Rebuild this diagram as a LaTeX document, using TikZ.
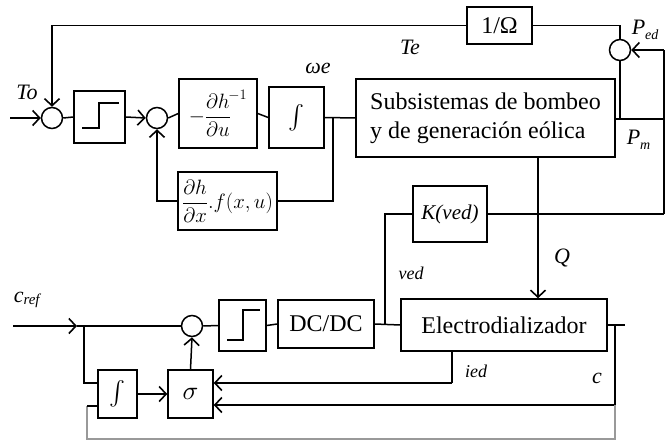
\documentclass[tikz,border=0pt]{standalone}
\usepackage{fontspec}
\setmainfont{Liberation Serif}
\usetikzlibrary{arrows.meta}
\newcommand{\bigint}{{\fontsize{10}{12}\selectfont\scalebox{2.4}{$\int$}}}
\begin{document}
\begin{tikzpicture}[x=1pt,y=-1pt,line width=1.5pt,
  blk/.style={draw,line width=1.5pt,rectangle,inner sep=0pt,font=\fontsize{24}{29}\selectfont},
  mblk/.style={blk,font=\fontsize{20}{24}\selectfont},
  sumc/.style={draw,line width=1.5pt,circle,minimum size=21pt,inner sep=0pt},
  arr/.style={-{Straight Barb[length=7pt,width=15pt,line width=1.6pt]}},
  lbl/.style={font=\fontsize{22}{26}\selectfont\itshape,inner sep=0pt},
  slbl/.style={font=\fontsize{18}{21}\selectfont\itshape,inner sep=0pt}]
\useasboundingbox (0,0) rectangle (666,441);
% nodes
\node[sumc] (sum1) at (52,118) {};
\node[blk,minimum width=51pt,minimum height=52pt] (sat1) at (99.5,117) {};
\node[sumc] (sum2) at (157,118) {};
\node[mblk,minimum width=78pt,minimum height=69pt] (gain) at (218,113.5)
  {$\displaystyle -\frac{\partial h}{\partial u}^{\!-1}$};
\node[blk,minimum width=55pt,minimum height=61pt] (int1) at (296.5,117.5) {\bigint};
\node[mblk,minimum width=99pt,minimum height=58pt] (fb) at (227.5,201)
  {$\displaystyle\frac{\partial h}{\partial x}.f(x,u)$};
\node[blk,minimum width=259pt,minimum height=78pt,align=left] (sub) at (485.5,118)
  {Subsistemas de bombeo\\y de generación eólica};
\node[blk,minimum width=65pt,minimum height=37pt] (omg) at (499.5,25.5) {1/Ω};
\node[sumc] (sum3) at (620,50) {};
\node[blk,minimum width=74pt,minimum height=56pt,font=\fontsize{21}{25}\selectfont\itshape] (kv) at (450,214) {K(ved)};
\node[sumc] (sum4) at (192,326) {};
\node[blk,minimum width=47pt,minimum height=51pt] (sat2) at (242.5,325.5) {};
\node[blk,minimum width=96pt,minimum height=48pt] (dc) at (326,324) {DC/DC};
\node[blk,minimum width=206pt,minimum height=52pt] (ed) at (504,325) {Electrodializador};
\node[blk,minimum width=39pt,minimum height=48pt] (int2) at (117.5,394) {\bigint};
\node[blk,minimum width=45pt,minimum height=48pt] (sig) at (190.5,394)
  {{\fontsize{10}{12}\selectfont\scalebox{2.6}{$\sigma$}}};
% saturation symbols
\draw (82,128) -- (99,128) -- (99,103) -- (119,103);
\draw (227,340) -- (243,340) -- (243,310) -- (260,310);
% coordinates
\coordinate (in1) at (10,118);
\coordinate (j1) at (333,118);
\coordinate (pmr) at (664,119);
\coordinate (rtop) at (664,50);
\coordinate (rbot) at (664,214);
\coordinate (vj) at (385,214);
\coordinate (vb) at (385,325);
\coordinate (cin) at (13,326);
\coordinate (ctip) at (77,326);
\coordinate (cj) at (84,326);
\coordinate (cj2) at (84,383);
\coordinate (oj) at (615,325);
\coordinate (oe) at (625,325);
\coordinate (ob) at (615,439);
\coordinate (lb) at (87,439);
\coordinate (iedb) at (452,383);
\coordinate (cc) at (615,405);
% top loop
\draw[arr] (in1) -- (sum1.west);
\draw[arr] (omg.west) -| (sum1.north);
\draw (omg.east) -| (sum3.north);
\draw (sum1.east) -- (sat1.west);
\draw[arr] (sat1.east) -- (sum2.west);
\draw (sum2.east) -- (gain.west);
\draw (gain.east) -- (int1.west);
\draw (int1.east) -- (sub.west);
\draw (j1) |- (fb.east);
\draw[arr] (fb.west) -| (sum2.south);
\draw (sub.east |- pmr) -- (pmr);
\draw (sum3.south) -- (sum3.south |- pmr);
\draw (rbot) -- (rtop);
\draw[arr] (rtop) -- (sum3.east);
\draw (rbot) -- (kv.east);
\draw (kv.west) -- (vj) -- (vb);
\draw[arr] (sub.south -| 538,0) -- (ed.north -| 538,0);
% bottom loop
\draw[arr] (cin) -- (ctip);
\draw (ctip) -- (sum4.west);
\draw (cj) |- (int2.west |- cj2);
\draw[arr] (int2.east) -- (sig.west);
\draw[arr] (sig.north) -- (sum4.south);
\draw (sum4.east) -- (sat2.west);
\draw (sat2.east) -- (dc.west);
\draw (dc.east) -- (ed.west);
\draw (ed.east) -- (oe);
\draw (ed.south -| iedb) -- (iedb);
\draw[arr] (iedb) -- (sig.east |- iedb);
\draw[arr] (oj) |- (sig.east |- cc);
\draw[black!40] (cc) -- (ob) -- (lb) -- (lb |- 0,406);
\draw (lb |- 0,406) -- (int2.west |- 0,406);
% labels
\node[lbl] (lTo) at (27,92) {To};
\node[lbl] (lTe) at (410,47) {Te};
\node[lbl] (lwe) at (318,68) {ωe};
\node[lbl,anchor=west] (lPed) at (631,30) {P\raisebox{-5pt}{\fontsize{14}{16}\selectfont ed}};
\node[lbl,anchor=west] (lPm) at (626,140) {P\raisebox{-5pt}{\fontsize{14}{16}\selectfont m}};
\node[lbl] (lQ) at (562,258) {Q};
\node[slbl] (lved) at (411,273) {ved};
\node[slbl] (lied) at (476,371) {ied};
\node[lbl] (lc) at (597,378) {c};
\node[lbl,anchor=west] (lcref) at (13,300) {c\raisebox{-2pt}{\fontsize{15}{17}\selectfont ref}};
\end{tikzpicture}
\end{document}
